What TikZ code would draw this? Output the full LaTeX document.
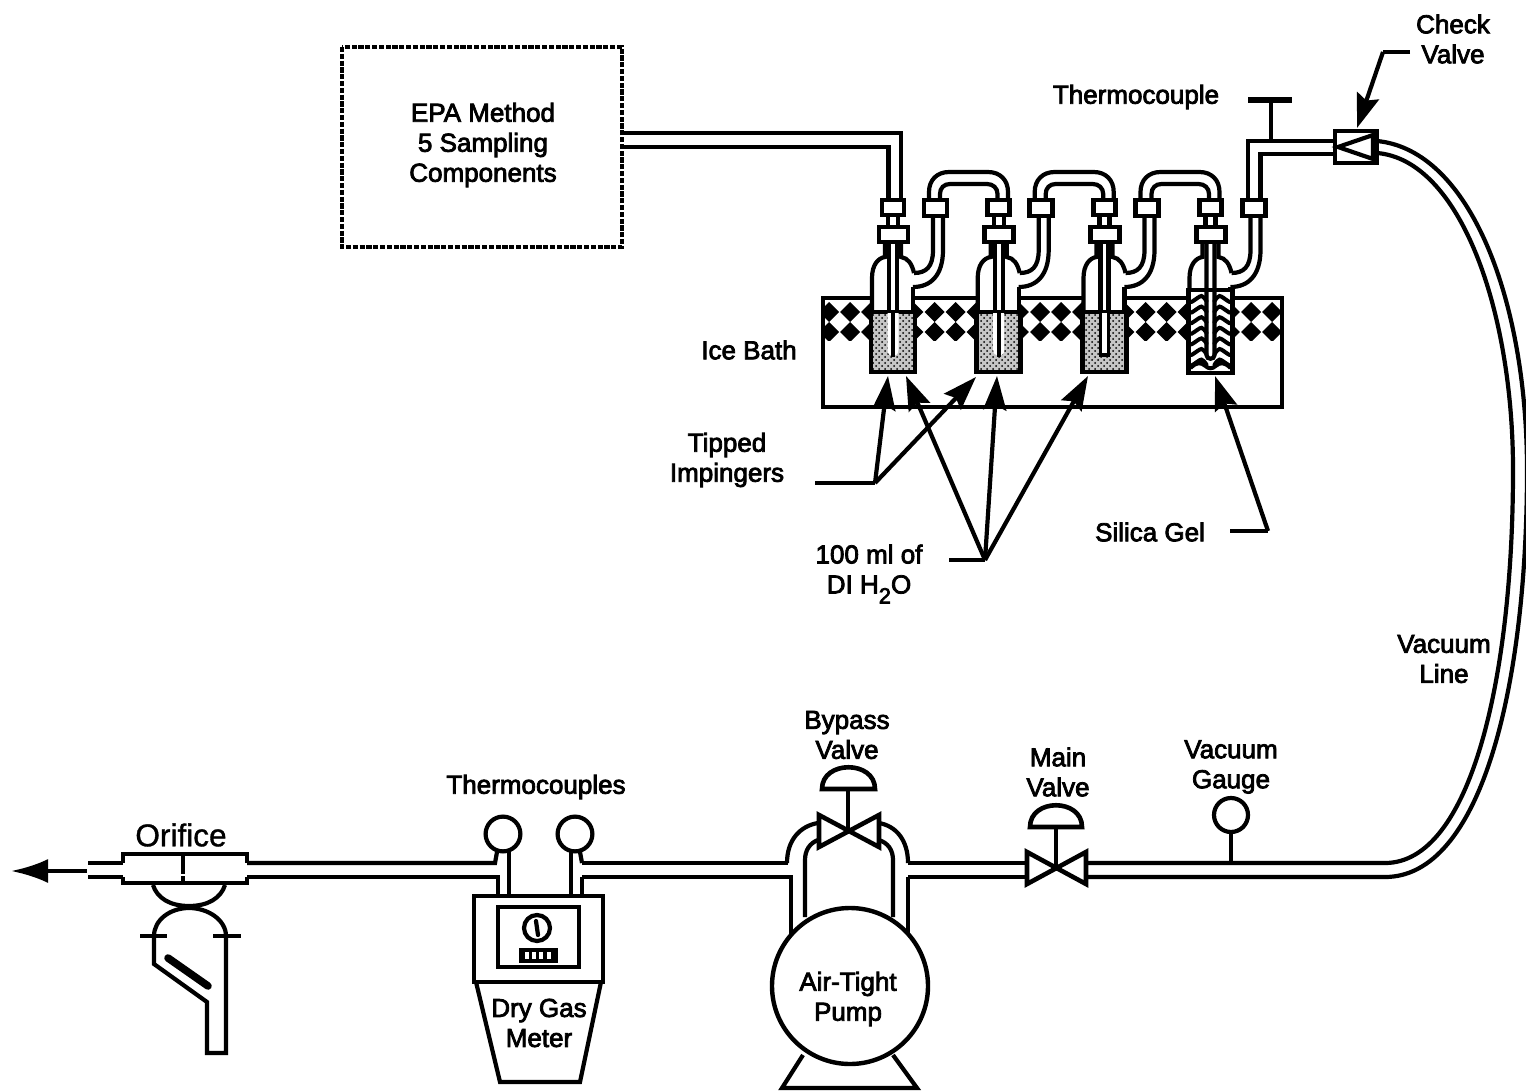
\documentclass[tikz,border=0pt]{standalone}
\usepackage{fontspec}
\setmainfont{Liberation Sans}[FakeBold=3]
\newfontfamily\plainlab{Liberation Sans}[FakeBold=1]
\usetikzlibrary{patterns,arrows.meta}
\tikzset{
  pipe/.style={line width=2.1pt,line join=miter,line cap=butt},
  lab/.style={inner sep=0pt,align=center,font=\fontsize{13}{15}\selectfont},
  lead/.style={line width=2.1pt,-{Stealth[length=17pt,width=11.5pt,inset=2.5pt]}},
  leadplain/.style={line width=2.1pt},
  clamp/.style={line width=2.4pt,fill=white},
  dash box/.style={line width=1.7pt,dash pattern=on 2.6pt off 0.8pt},
}
\newcommand{\impinger}[1]{%
  \begin{scope}[shift={(#1,0)}]
    % body
    \fill[white] (-21,312) -- (-21,278) .. controls (-21,265) and (-15,258) .. (-8,257) -- (-8,242) -- (8,242) -- (8,257) .. controls (15,258) and (19,264) .. (21,273) -- (21,312) -- cycle;
    \draw[pipe] (-21,312) -- (-21,278) .. controls (-21,265) and (-15,258) .. (-8,257) -- (-8,242);
    \draw[pipe] (8,242) -- (8,257) .. controls (15,258) and (19,264) .. (21,273);
    \draw[pipe] (20,287) -- (20,312);
    % side arm
    \fill[white] (21,273) .. controls (33,273) and (40,267) .. (40,250) -- (40,205) -- (50,205) -- (50,250) .. controls (50,275) and (38,287) .. (20,287) -- cycle;
    \draw[pipe] (21,273) .. controls (33,273) and (40,267) .. (40,250) -- (40,205);
    \draw[pipe] (20,287) .. controls (38,287) and (50,275) .. (50,250) -- (50,205);
    % neck between clamps
    \draw[pipe] (-5,215) -- (-5,227) (5,215) -- (5,227);
  \end{scope}}
\newcommand{\clamps}[1]{%
  \begin{scope}[shift={(#1,0)}]
    \draw[clamp] (-14,227) rectangle (15,242);
    \draw[clamp] (-11,200) rectangle (11,215);
  \end{scope}}
\newcommand{\sideclamp}[1]{%
  \begin{scope}[shift={(#1,0)}]
    \draw[clamp] (31,200) rectangle (54,216);
  \end{scope}}
\newcommand{\utube}[1]{%
  \begin{scope}[shift={(#1,0)}]
    \draw[pipe] (36,200) -- (36,192) .. controls (36,180) and (44,172) .. (56,172) -- (95,172) .. controls (107,172) and (115,180) .. (115,192) -- (115,200);
    \draw[pipe] (47,200) -- (47,194) .. controls (47,188) and (51,184) .. (57,184) -- (94,184) .. controls (100,184) and (104.5,188) .. (104.5,194) -- (104.5,200);
  \end{scope}}
\newcommand{\liquid}[2]{%
  \begin{scope}[shift={(#1,0)}]
    \draw[line width=2.4pt,fill=gray!45] (-22,312) rectangle (22,372);
    \fill[pattern=crosshatch dots,pattern color=black] (-21,313) rectangle (21,371);
    #2
  \end{scope}}
\begin{document}
\begin{tikzpicture}[x=0.5pt,y=-0.5pt]
\useasboundingbox (0,0) rectangle (1526,1092);
% dashed box
\node[lab] (epa) at (483,145) {EPA Method\\5 Sampling\\Components};
\draw[dash box] (342,47) rectangle (622,247);
% ice bath
\begin{scope}
  \clip (823,300) rectangle (1282,340);
  \foreach \k in {0,...,21} {
    \pgfmathsetmacro{\xx}{829+21.1*\k}
    \fill (\xx,302) -- (\xx+10,312) -- (\xx,322) -- (\xx-10,312) -- cycle;
    \fill (\xx,322) -- (\xx+10,332) -- (\xx,342) -- (\xx-10,332) -- cycle;
  }
\end{scope}
\draw[line width=2.1pt] (823,298) rectangle (1282,407);
% inlet and outlet tubing
\draw[pipe] (622,133) -- (901,133) -- (901,200);
\draw[pipe] (622,147) -- (888.5,147) -- (888.5,200);
\draw[pipe] (1248,200) -- (1248,141) -- (1335,141);
\draw[pipe] (1260.5,200) -- (1260.5,154) -- (1335,154);
% thermocouple
\draw[line width=2.4pt] (1271,141) -- (1271,100);
\draw[line width=3.2pt] (1248,100) -- (1292,100);
% impingers
\impinger{893}\impinger{998.7}\impinger{1104.5}\impinger{1210.5}
\utube{893}\utube{998.7}\utube{1104.5}
\liquid{893}{
  \fill[white] (-5.5,313) -- (-5.5,350) .. controls (-5.5,358) and (5.5,358) .. (5.5,350) -- (5.5,313) -- cycle;
  \draw[line width=2pt] (0,313) -- (0,357);
  \draw[pipe] (-4,244) -- (-4,312) (4,244) -- (4,312);
}
\liquid{998.7}{
  \fill[white] (-5.5,313) -- (-5.5,350) .. controls (-5.5,358) and (5.5,358) .. (5.5,350) -- (5.5,313) -- cycle;
  \draw[line width=2pt] (0,313) -- (0,357);
  \draw[pipe] (-4,244) -- (-4,312) (4,244) -- (4,312);
}
\liquid{1104.5}{
  \fill[white] (-5,313) rectangle (5,355);
  \draw[line width=1.6pt] (-4,313) -- (-4,355) -- (4,355) -- (4,313);
  \draw[pipe] (-4,244) -- (-4,312) (4,244) -- (4,312);
}
% silica gel impinger
\begin{scope}[shift={(1210.5,0)}]
  \draw[line width=2.4pt,fill=white] (-22,290) rectangle (22,373);
  \foreach \yy in {296,306.6,317.2,327.8,338.4,349,359.6} {
    \draw[line width=2pt,line cap=round] (-19,\yy+6) .. controls (-14,\yy+3) and (-11,\yy) .. (-9,\yy) .. controls (-8,\yy) and (-6,\yy+2) .. (-4,\yy+5);
    \draw[line width=2pt,line cap=round] (19,\yy+6) .. controls (14,\yy+3) and (11,\yy) .. (9,\yy) .. controls (8,\yy) and (6,\yy+2) .. (4,\yy+5);
  }
  \draw[line width=2pt] (-20,368) .. controls (-14,362) and (-10,362) .. (-5,366) .. controls (-2,369) and (2,369) .. (5,366) .. controls (10,362) and (14,362) .. (20,368);
  \draw[pipe] (-4,244) -- (-4,355) .. controls (-4,360) and (4,360) .. (4,355) -- (4,244);
\end{scope}
\clamps{893}\clamps{998.7}\clamps{1104.5}\clamps{1210.5}
\sideclamp{893}\sideclamp{998.7}\sideclamp{1104.5}
\draw[clamp] (1242.5,200) rectangle (1265.5,216);
% check valve
\draw[line width=2.4pt,fill=white] (1335,131) rectangle (1377,163);
\draw[line width=2.1pt,line join=miter] (1373,135) -- (1338,147) -- (1373,159) -- cycle;
% vacuum line
\draw[pipe] (1377,141) .. controls (1470,150) and (1527,300) .. (1527,470) .. controls (1527,690) and (1480,877) .. (1385,877) -- (1087,877);
\draw[pipe] (1377,153) .. controls (1460,160) and (1513,310) .. (1513,470) .. controls (1513,680) and (1470,863) .. (1385,863) -- (1087,863);
% vacuum gauge
\draw[line width=2.1pt] (1231,833) -- (1231,863);
\draw[line width=2.1pt,fill=white] (1231,815) circle[radius=8.5pt];
% main valve
\draw[pipe] (908,863) -- (1026,863) (908,877) -- (1026,877);
\draw[line width=2.3pt,line join=miter,fill=white] (1027,852) -- (1086,884) -- (1086,852) -- (1027,884) -- cycle;
\draw[line width=2.1pt] (1056,868) -- (1056,827);
\draw[line width=2.3pt,fill=white] (1030,827) .. controls (1030,798) and (1082,798) .. (1082,827) -- cycle;
% bypass
\draw[pipe] (787,863) .. controls (787,840) and (800,826) .. (818,823);
\draw[pipe] (908,863) .. controls (908,840) and (896,826) .. (879,823);
\draw[pipe] (805,917) -- (805,860) .. controls (805,850) and (810,843) .. (818,840);
\draw[pipe] (893,917) -- (893,860) .. controls (893,850) and (888,843) .. (879,840);
\draw[pipe] (582,863) -- (788,863);
\draw[pipe] (582,877) -- (791,877) -- (791,935);
\draw[pipe] (908,877) -- (908,935);
\draw[line width=2.3pt,line join=miter,fill=white] (819,815) -- (879,847) -- (879,815) -- (819,847) -- cycle;
\draw[line width=2.1pt] (848,831) -- (848,789);
\draw[line width=2.3pt,fill=white] (822,789) .. controls (822,760) and (875,760) .. (875,789) -- cycle;
% pump
\draw[line width=2.1pt,line join=miter] (803,1055) -- (782,1088) -- (917,1088) -- (893,1055);
\node[circle,draw,line width=2.2pt,fill=white,minimum size=78pt,inner sep=0pt] (pump) at (850,986) {};
\node[lab] (pumpl) at (848,999) {Air-Tight\\Pump};
% meter
\draw[pipe] (247,863) -- (495,863) -- (497,852);
\draw[pipe] (247,877) -- (498,877) -- (498,896);
\draw[pipe] (509,850) -- (509,896);
\draw[pipe] (571,850) -- (571,896);
\draw[pipe] (580,852) -- (582,863);
\draw[pipe] (582,877) -- (582,896);
\draw[line width=2.1pt,fill=white] (503,834) circle[radius=8.7pt];
\draw[line width=2.1pt,fill=white] (575,834) circle[radius=8.7pt];
\draw[line width=2.1pt,line join=miter,fill=white] (474,896) -- (603,896) -- (603,982) -- (474,982) -- cycle;
\draw[line width=2.1pt,line join=miter] (476,982) -- (500,1082) -- (580,1082) -- (601,982);
\draw[line width=2.3pt] (498,907) rectangle (579,967);
\draw[line width=2.1pt] (537,928) circle[radius=6.5pt];
\draw[line width=2.1pt,line cap=round] (536,921) -- (538,935);
\fill (519,948) rectangle (558,963);
\foreach \xx in {525,532,539,547} \fill[white] (\xx,952) rectangle ++(4,7);
\node[lab] (drygas) at (539,1023) {Dry Gas\\Meter};
% orifice
\draw[pipe] (88,863) -- (123,863);
\draw[pipe] (88,877) -- (123,877);
\draw[pipe] (123,863) -- (123,854) -- (247,854) -- (247,863);
\draw[pipe] (123,877) -- (123,883) -- (247,883) -- (247,877);
\draw[line width=1.8pt,dash pattern=on 10pt off 1.2pt] (183,854) -- (183,883);
\draw[pipe] (153,885) .. controls (157,898) and (170,906) .. (189,906) .. controls (208,906) and (221,898) .. (225,885);
\draw[pipe] (154,936) .. controls (154,920) and (170,908) .. (189,908) .. controls (208,908) and (226,920) .. (226,936) -- (226,1053) -- (207,1053) -- (207,1002) -- (154,964) -- cycle;
\draw[line width=2.1pt] (140,936) -- (167,936) (213,936) -- (241,936);
\draw[line width=3.8pt,line cap=round] (168,958) -- (208,986);
% outflow arrow
\coordinate (outS) at (87,871);
\coordinate (outT) at (11,871);
\draw[line width=2.1pt,-{Latex[length=18.5pt,width=12pt]}] (outS) -- (outT);
% labels
\node[lab] (tc) at (1136,97) {Thermocouple};
\node[lab] (cv) at (1453,39) {Check\\Valve};
\node[lab] (ice) at (749,350) {Ice Bath};
\node[lab] (ti) at (727,460) {Tipped\\Impingers};
\node[lab] (di) at (869,574) {100 ml of\\DI H\raisebox{-5pt}{\fontsize{11}{12}\selectfont 2}O};
\node[lab] (sg) at (1150,532) {Silica Gel};
\node[lab] (vl) at (1444,659) {Vacuum\\Line};
\node[lab] (vg) at (1231,767) {Vacuum\\Gauge};
\node[lab] (mv) at (1058,772) {Main\\Valve};
\node[lab] (bv) at (847,735) {Bypass\\Valve};
\node[lab] (tcs) at (536,787) {Thermocouples};
\node[inner sep=0pt,font={\plainlab\fontsize{15.8}{17}\selectfont}] (or) at (181,835) {Orifice};
% leader lines
\coordinate (tiA) at (815,483);
\coordinate (tiJ) at (875,483);
\coordinate (tiT1) at (888,376);
\coordinate (tiT2) at (976,377);
\draw[leadplain] (tiA) -- (tiJ);
\draw[lead] (tiJ) -- (tiT1);
\draw[lead] (tiJ) -- (tiT2);
\coordinate (diA) at (949,560);
\coordinate (diJ) at (985,560);
\coordinate (diT1) at (906,376);
\coordinate (diT2) at (997,376);
\coordinate (diT3) at (1088,376);
\draw[leadplain] (diA) -- (diJ);
\draw[lead] (diJ) -- (diT1);
\draw[lead] (diJ) -- (diT2);
\draw[lead] (diJ) -- (diT3);
\coordinate (sgA) at (1230,531);
\coordinate (sgJ) at (1268,531);
\coordinate (sgT) at (1215,376);
\draw[leadplain] (sgA) -- (sgJ);
\draw[lead] (sgJ) -- (sgT);
\coordinate (cvA) at (1410,52);
\coordinate (cvJ) at (1383,52);
\coordinate (cvT) at (1357,128);
\draw[leadplain] (cvA) -- (cvJ);
\draw[lead] (cvJ) -- (cvT);
\end{tikzpicture}
\end{document}
